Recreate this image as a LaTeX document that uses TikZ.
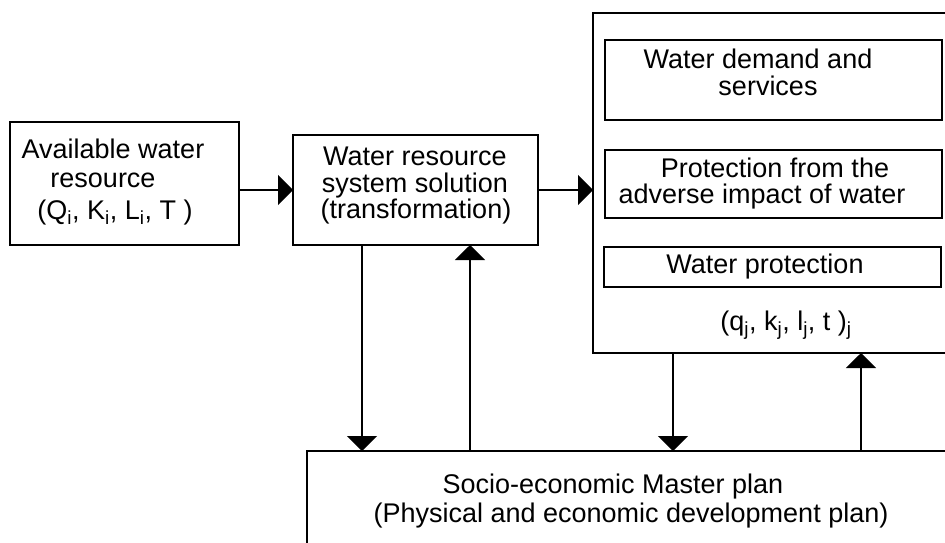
\documentclass[tikz,border=0pt]{standalone}
\usepackage{fontspec}
\setmainfont{Liberation Sans}
\usetikzlibrary{arrows.meta}
\begin{document}
\begin{tikzpicture}[x=1pt,y=-1pt,
  box/.style={draw, line width=1.6pt, inner sep=0pt, outer sep=0pt},
  lbl/.style={anchor=base, inner sep=0pt, font=\fontsize{27}{28}\selectfont},
  link/.style={line width=1.6pt, -{Triangle[width=30pt,length=15pt]}}]
\useasboundingbox (0,0) rectangle (945,542);
\clip (0,0) rectangle (945,542);

% main blocks
\node[box, minimum width=229pt, minimum height=123pt] (avail) at (124.5,183.5) {};
\node[box, minimum width=245pt, minimum height=110pt] (solve) at (415.5,190) {};
\node[box, minimum width=372pt, minimum height=340pt] (needs) at (779,183) {};
\node[box, minimum width=668pt, minimum height=109pt] (plan) at (641,505.5) {};

% blocks inside the demand column
\node[box, minimum width=337pt, minimum height=80pt] (demand) at (773.5,80) {};
\node[box, minimum width=337pt, minimum height=68pt] (adverse) at (773.5,184) {};
\node[box, minimum width=337pt, minimum height=40pt] (protect) at (772.5,267) {};

% texts
\node[lbl] (a1) at (113,158) {Available water};
\node[lbl] (a2) at (103,187) {resource};
\node[lbl] (a3) at (115,219) {(Q\textsubscript{i}, K\textsubscript{i}, L\textsubscript{i}, T )};

\node[lbl] (s1) at (415,165) {Water resource};
\node[lbl] (s2) at (415,192) {system solution};
\node[lbl] (s3) at (416,218) {(transformation)};

\node[lbl] (d1) at (758,68) {Water demand and};
\node[lbl] (d2) at (768,95) {services};
\node[lbl] (v1) at (775,177) {Protection from the};
\node[lbl] (v2) at (762,203) {adverse impact of water};
\node[lbl] (p1) at (765,273) {Water protection};
\node[lbl] (n1) at (786,330) {(q\textsubscript{j}, k\textsubscript{j}, l\textsubscript{j}, t )\textsubscript{j}};

\node[lbl] (m1) at (613,493) {Socio-economic Master plan};
\node[lbl] (m2) at (631,522) {(Physical and economic development plan)};

% flows
\draw[link] (avail.east |- solve.west) -- (solve.west);
\draw[link] (solve.east) -- (needs.west |- solve.east);
\draw[link] ([xshift=-53.5pt]solve.south) -- ([xshift=-53.5pt]solve.south |- plan.north);
\draw[link] ([xshift=54.5pt]solve.south |- plan.north) -- ([xshift=54.5pt]solve.south);
\draw[link] ([xshift=-106pt]needs.south) -- ([xshift=-106pt]needs.south |- plan.north);
\draw[link] ([xshift=82pt]needs.south |- plan.north) -- ([xshift=82pt]needs.south);
\end{tikzpicture}
\end{document}
